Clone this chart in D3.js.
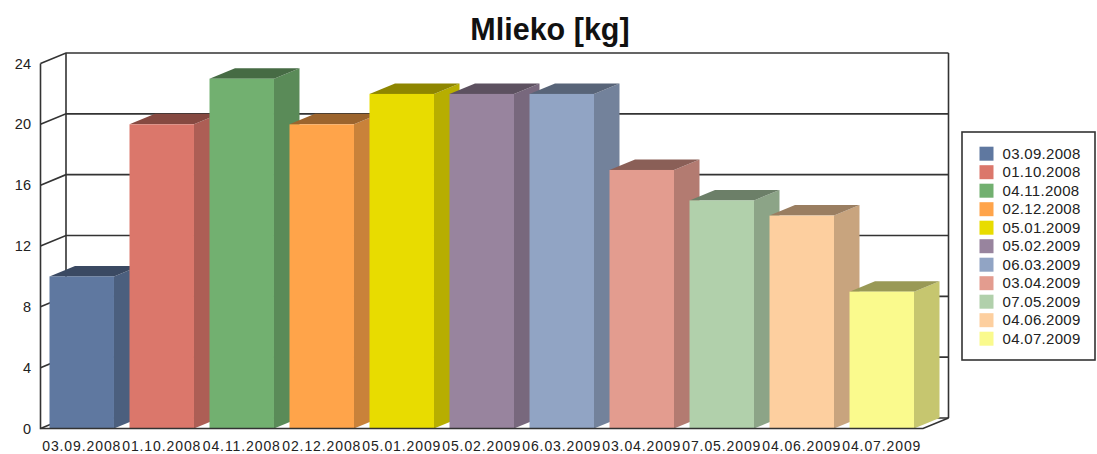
<!DOCTYPE html>
<html>
<head>
<meta charset="utf-8">
<script src="https://cdnjs.cloudflare.com/ajax/libs/d3/7.8.5/d3.min.js"></script>
<style>
html, body { margin: 0; padding: 0; background: #fff; overflow: hidden; }
text { font-family: "Liberation Sans", Arial, sans-serif; fill: #222; }
</style>
</head>
<body>
<div id="chart"></div>
<script>
var dates = ["03.09.2008", "01.10.2008", "04.11.2008", "02.12.2008", "05.01.2009", "05.02.2009",
  "06.03.2009", "03.04.2009", "07.05.2009", "04.06.2009", "04.07.2009"];
var values = [10, 20, 23, 20, 22, 22, 22, 17, 15, 14, 9];
var colors = ["#5f78a0", "#db776b", "#72b070", "#ffa44a", "#e8dc00", "#98849e",
  "#91a4c4", "#e39c8f", "#b1d0ab", "#fdcf9f", "#fafa8d"];
var yTicks = [0, 4, 8, 12, 16, 20, 24];

var width = 1097, height = 454;
var depthX = 25.5, depthY = 10.5;
var lineColor = "#333";

var svg = d3.select("#chart").append("svg")
  .attr("width", width)
  .attr("height", height);

var x = d3.scaleBand()
  .domain(dates)
  .range([40.5, 923])
  .paddingInner(0.194)
  .paddingOuter(0.1125);

var y = d3.scaleLinear()
  .domain([0, 24])
  .range([428.5, 63.5]);

function shade(c, k) {
  var r = d3.rgb(c);
  return d3.rgb(r.r * k, r.g * k, r.b * k).formatHex();
}

function poly(p) {
  return d3.line()(p) + "Z";
}

// walls
var walls = svg.append("g")
  .attr("fill", "none")
  .attr("stroke", lineColor)
  .attr("stroke-width", 1.6);

yTicks.forEach(function(t) {
  walls.append("path")
    .attr("d", d3.line()([[40.5, y(t)], [40.5 + depthX, y(t) - depthY], [923 + depthX, y(t) - depthY]]));
});
walls.append("path").attr("d", d3.line()([[40.5 + depthX, y(0) - depthY], [40.5 + depthX, y(24) - depthY]]));
walls.append("path").attr("d", d3.line()([[923 + depthX, y(0) - depthY], [923 + depthX, y(24) - depthY]]));

// bars, left to right so the next one hides the side of the previous
var bars = svg.selectAll("g.bar")
  .data(dates)
  .enter().append("g")
  .attr("class", "bar");

bars.append("path")
  .attr("fill", function(d, i) { return shade(colors[i], 0.79); })
  .attr("d", function(d, i) {
    var r = x(d) + x.bandwidth(), t = y(values[i]), b = y(0);
    return poly([[r, t], [r + depthX, t - depthY], [r + depthX, b - depthY], [r, b]]);
  });

bars.append("path")
  .attr("fill", function(d, i) { return shade(colors[i], 0.61); })
  .attr("d", function(d, i) {
    var l = x(d), r = l + x.bandwidth(), t = y(values[i]);
    return poly([[l, t], [l + depthX, t - depthY], [r + depthX, t - depthY], [r, t]]);
  });

bars.append("rect")
  .attr("x", function(d) { return x(d); })
  .attr("y", function(d, i) { return y(values[i]); })
  .attr("width", x.bandwidth())
  .attr("height", function(d, i) { return y(0) - y(values[i]); })
  .attr("fill", function(d, i) { return colors[i]; });

// front of the frame
var frame = svg.append("g")
  .attr("fill", "none")
  .attr("stroke", lineColor)
  .attr("stroke-width", 1.6);
frame.append("path").attr("d", d3.line()([[40.5, y(24)], [40.5, y(0)], [923, y(0)], [923 + depthX, y(0) - depthY]]));

// axes, labels only
var yAxis = svg.append("g")
  .attr("transform", "translate(31,0)")
  .call(d3.axisLeft(y).tickValues(yTicks).tickSize(0).tickPadding(0));
yAxis.select(".domain").remove();
yAxis.selectAll("text").attr("font-size", 14.5).attr("font-family", null);

var xAxis = svg.append("g")
  .attr("transform", "translate(0,441)")
  .call(d3.axisBottom(x).tickSize(0).tickPadding(0));
xAxis.select(".domain").remove();
xAxis.selectAll("text")
  .attr("font-size", 14)
  .attr("letter-spacing", 0.9)
  .attr("font-family", null);

svg.append("text")
  .attr("x", 550)
  .attr("y", 40)
  .attr("text-anchor", "middle")
  .attr("font-size", 30.5)
  .attr("font-weight", "bold")
  .style("fill", "#111")
  .text("Mlieko [kg]");

// legend
var legend = svg.append("g");
legend.append("rect")
  .attr("x", 962)
  .attr("y", 132)
  .attr("width", 133)
  .attr("height", 228)
  .attr("fill", "#fff")
  .attr("stroke", lineColor)
  .attr("stroke-width", 1.6);

var rows = legend.selectAll("g.row")
  .data(dates)
  .enter().append("g")
  .attr("class", "row")
  .attr("transform", function(d, i) { return "translate(979.5," + (146.7 + i * 18.5) + ")"; });

rows.append("rect")
  .attr("width", 14)
  .attr("height", 14)
  .attr("fill", function(d, i) { return colors[i]; });

rows.append("text")
  .attr("x", 23)
  .attr("y", 12)
  .attr("font-size", 15)
  .attr("letter-spacing", 0.3)
  .text(function(d) { return d; });
</script>
</body>
</html>
